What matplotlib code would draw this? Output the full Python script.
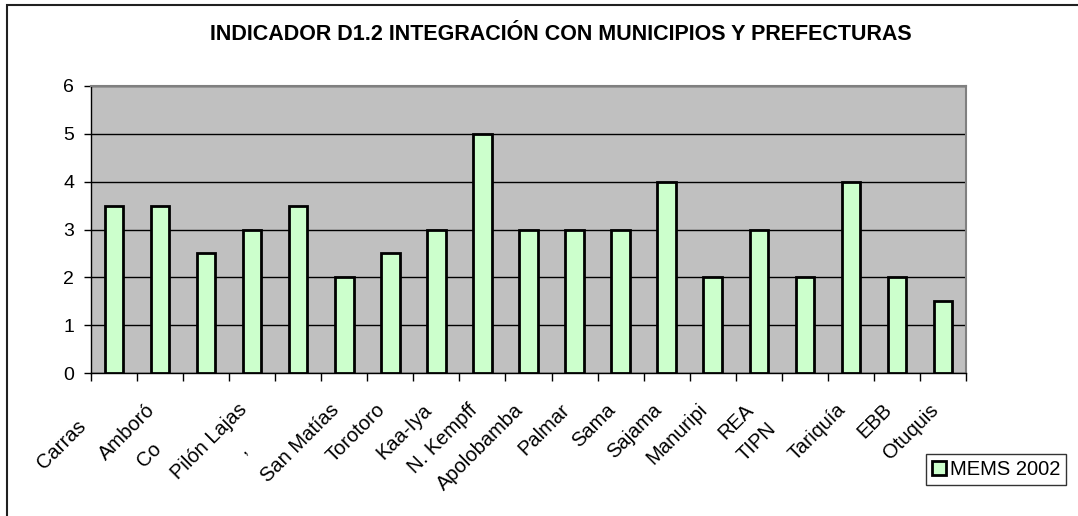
import matplotlib

matplotlib.use("Agg")
import matplotlib.pyplot as plt
from matplotlib.patches import Rectangle
from matplotlib.transforms import ScaledTranslation

plt.rcParams["font.family"] = ["Liberation Sans", "DejaVu Sans"]

TITLE = "INDICADOR D1.2 INTEGRACIÓN CON MUNICIPIOS Y PREFECTURAS"
SERIES = "MEMS 2002"

# visible (clipped) category labels as they appear in the picture
areas = ["Carras", "Amboró", "Co", "Pilón Lajas", ",", "San Matías", "Torotoro",
         "Kaa-Iya", "N. Kempff", "Apolobamba", "Palmar", "Sama", "Sajama",
         "Manuripi", "REA", "TIPN", "Tariquía", "EBB", "Otuquis"]
scores = [3.5, 3.5, 2.5, 3, 3.5, 2, 2.5, 3, 5, 3, 3, 3, 4, 2, 3, 2, 4, 2, 1.5]

# label placement offsets in pixels (dx, dy) from the category centre / axis line;
# the clipped labels sit lower, as in the original sheet
LABEL_OFFSETS = {0: (-31, -50), 2: (-48, -73), 4: (-55, -73), 15: (-32, -53)}
DEFAULT_OFFSET = (-8, -34)
FS = 14.5

W, H, DPI = 1078, 516, 100
fig = plt.figure(figsize=(W / DPI, H / DPI), dpi=DPI)
ax = fig.add_axes([91 / W, 1 - 373 / H, (966 - 91) / W, (373 - 86) / H])

x = list(range(len(areas)))
ax.set_facecolor("#C0C0C0")
ax.bar(x, scores, width=0.4, color="#CCFFCC", edgecolor="black", linewidth=2,
       label=SERIES, zorder=3)

ax.set_xlim(-0.5, len(areas) - 0.5)
ax.set_ylim(0, 6)
ax.set_yticks(range(7))
ax.tick_params(axis="y", labelsize=14, length=5, width=1, pad=7, direction="out")
ax.yaxis.grid(True, color="black", linewidth=1)
ax.set_axisbelow(True)

ax.set_xticks([i - 0.5 for i in range(len(areas) + 1)])
ax.set_xticklabels([])
ax.tick_params(axis="x", length=6, width=1, direction="out", color="black")

for side in ("top", "right"):
    ax.spines[side].set_color("#808080")
    ax.spines[side].set_linewidth(1.5)
for side in ("left", "bottom"):
    ax.spines[side].set_color("black")
    ax.spines[side].set_linewidth(1)

for i, name in enumerate(areas):
    dx, dy = LABEL_OFFSETS.get(i, DEFAULT_OFFSET)
    tr = ax.get_xaxis_transform() + ScaledTranslation(dx / DPI, dy / DPI, fig.dpi_scale_trans)
    ax.text(i, 0, name, transform=tr, rotation=45, rotation_mode="anchor",
            ha="right", va="center", fontsize=FS)

fig.text(561 / W, 1 - 34 / H, TITLE, ha="center", va="center",
         fontsize=15.5, fontweight="bold")

leg = ax.legend(loc="center", bbox_to_anchor=(996 / W, 1 - 469.5 / H),
                bbox_transform=fig.transFigure, fontsize=14.5, frameon=True,
                fancybox=False, shadow=False, handlelength=0.7, handleheight=0.7,
                handletextpad=0.2, borderpad=0.28, borderaxespad=0)
leg.get_frame().set_edgecolor("black")
leg.get_frame().set_linewidth(1)

# outer chart frame (only top and left edges fall inside the picture)
fig.add_artist(Rectangle((7 / W, -0.1), 1.2, 1.1 - 5 / H, transform=fig.transFigure,
                         fill=False, edgecolor="#202020", linewidth=1.5))

fig.savefig("out.png", dpi=DPI)
